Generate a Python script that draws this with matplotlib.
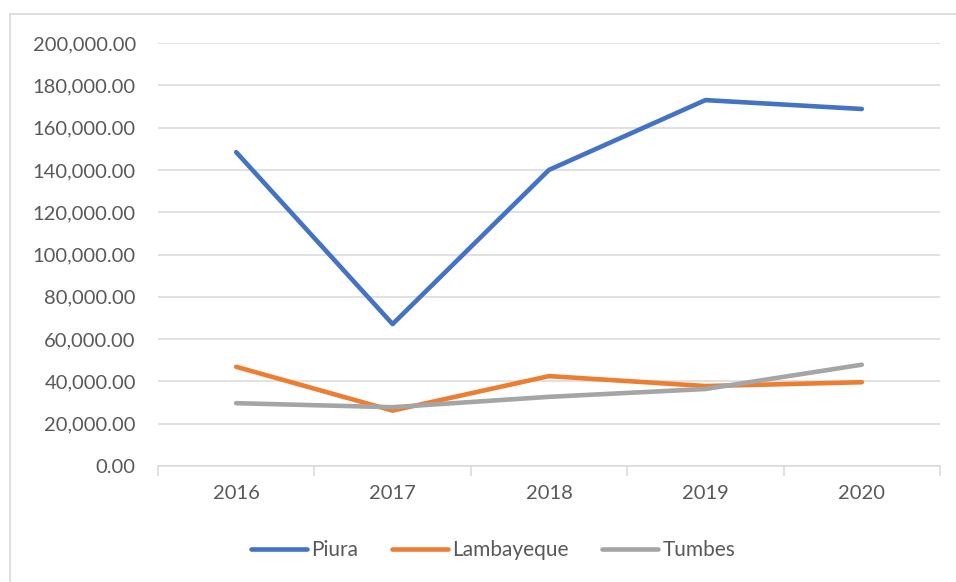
import matplotlib.pyplot as plt
from matplotlib.lines import Line2D
from matplotlib.ticker import FuncFormatter, FixedLocator
import numpy as np

years = ["2016", "2017", "2018", "2019", "2020"]
piura = [148400, 67100, 140000, 173000, 168800]
lambayeque = [46900, 26200, 42500, 37800, 39600]
tumbes = [29700, 27800, 32700, 36400, 47900]

series = [("Piura", piura, "#4472C4"),
          ("Lambayeque", lambayeque, "#ED7D31"),
          ("Tumbes", tumbes, "#A5A5A5")]

plt.rcParams['font.family'] = ['Lato', 'DejaVu Sans']

fig = plt.figure(figsize=(9.56, 5.82), dpi=100)
ax = fig.add_axes([158 / 956, 1 - 466 / 582, (940 - 158) / 956, (466 - 43) / 582])

x = np.arange(len(years))
for name, vals, col in series:
    ax.plot(x, vals, color=col, linewidth=3.3, solid_capstyle='round',
            solid_joinstyle='round', label=name)

ax.set_xlim(-0.5, len(years) - 0.5)
ax.set_ylim(0, 200000)
ax.set_yticks(np.arange(0, 200001, 20000))
ax.yaxis.set_major_formatter(FuncFormatter(lambda v, p: "{:,.2f}".format(v)))
ax.grid(axis='y', color='#D9D9D9', linewidth=1.1)
ax.set_axisbelow(True)

# category labels centred, tick marks on the boundaries
ax.set_xticks(x)
ax.set_xticklabels(years)
ax.tick_params(axis='x', which='major', length=0, pad=14)
ax.xaxis.set_minor_locator(FixedLocator(np.arange(-0.5, len(years), 1)))
ax.tick_params(axis='x', which='minor', length=7, color='#D9D9D9', width=1.1)
ax.tick_params(axis='y', length=0, pad=16)
ax.tick_params(labelsize=14.5, labelcolor='#595959')

for s in ['top', 'right', 'left']:
    ax.spines[s].set_visible(False)
ax.spines['bottom'].set_color('#D9D9D9')
ax.spines['bottom'].set_linewidth(1.1)

handles = [Line2D([], [], color=c, linewidth=3.3, solid_capstyle='round') for _, _, c in series]
leg = fig.legend(handles, [n for n, _, _ in series], loc='center', ncol=3,
                 bbox_to_anchor=(493 / 956, 1 - 550 / 582), frameon=False,
                 fontsize=15, handlelength=2.7, handletextpad=0.2, columnspacing=1.6)
for t in leg.get_texts():
    t.set_color('#595959')

# chart area border (only left and top show in the reference)
fig.add_artist(Line2D([10 / 956, 10 / 956], [0, 1 - 14 / 582], color='#D9D9D9', linewidth=1.2))
fig.add_artist(Line2D([10 / 956, 1], [1 - 14 / 582, 1 - 14 / 582], color='#D9D9D9', linewidth=1.2))

fig.savefig("out.png", dpi=100)
